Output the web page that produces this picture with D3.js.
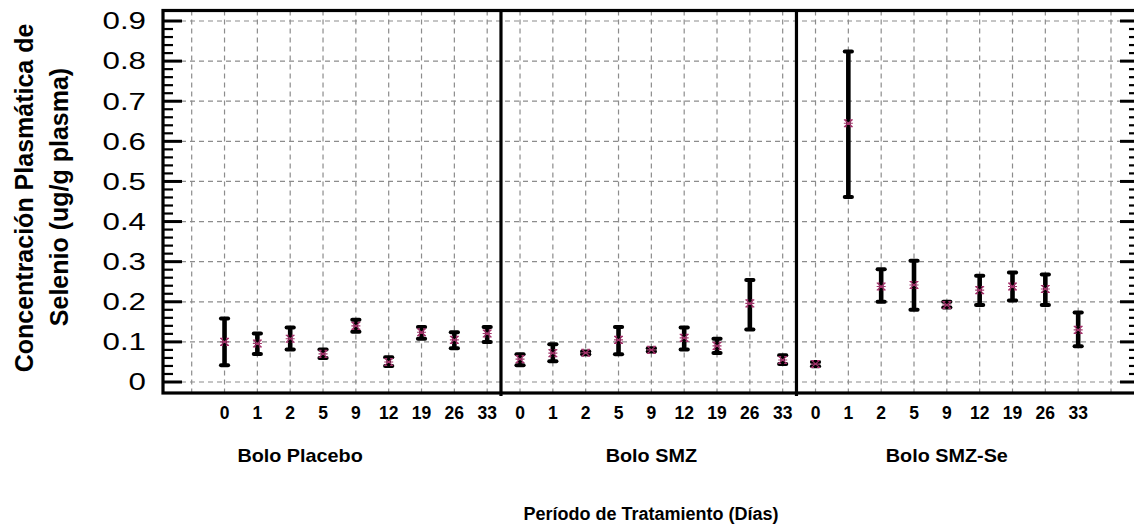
<!DOCTYPE html>
<html>
<head>
<meta charset="utf-8">
<script src="https://cdn.jsdelivr.net/npm/d3@7"></script>
<style>
  html, body { margin: 0; padding: 0; background: #fff; }
  svg { display: block; font-family: "Liberation Sans", Arial, sans-serif; }
</style>
</head>
<body>
<svg id="chart" width="1134" height="527"></svg>
<script>
// Treatment groups and sampling days
const groups = ["Bolo Placebo", "Bolo SMZ", "Bolo SMZ-Se"];
const days = ["0", "1", "2", "5", "9", "12", "19", "26", "33"];

// Mean plasma selenium (ug/g plasma) and interval limits per group
const placeboMean = [0.100, 0.096, 0.108, 0.070, 0.140, 0.050, 0.124, 0.105, 0.121];
const placeboLow  = [0.042, 0.070, 0.081, 0.060, 0.125, 0.040, 0.108, 0.084, 0.100];
const placeboHigh = [0.158, 0.121, 0.136, 0.081, 0.155, 0.062, 0.137, 0.124, 0.137];

const smzMean = [0.057, 0.072, 0.073, 0.105, 0.080, 0.110, 0.090, 0.196, 0.055];
const smzLow  = [0.042, 0.052, 0.069, 0.069, 0.076, 0.081, 0.072, 0.131, 0.045];
const smzHigh = [0.069, 0.094, 0.076, 0.137, 0.084, 0.136, 0.108, 0.254, 0.067];

const smzSeMean = [0.045, 0.645, 0.238, 0.242, 0.192, 0.229, 0.238, 0.232, 0.130];
const smzSeLow  = [0.039, 0.461, 0.200, 0.180, 0.186, 0.192, 0.203, 0.192, 0.089];
const smzSeHigh = [0.050, 0.824, 0.281, 0.302, 0.200, 0.265, 0.273, 0.268, 0.173];

const yTicks = [0, 0.1, 0.2, 0.3, 0.4, 0.5, 0.6, 0.7, 0.8, 0.9];

const series = [
  { mean: placeboMean, low: placeboLow, high: placeboHigh },
  { mean: smzMean, low: smzLow, high: smzHigh },
  { mean: smzSeMean, low: smzSeLow, high: smzSeHigh }
];

// Flatten into one row per (group, day); slots run 2..28 across the three panels
const rows = [];
series.forEach((s, g) => {
  days.forEach((d, i) => {
    rows.push({ group: g, day: d, slot: 2 + g * days.length + i,
                mean: s.mean[i], low: s.low[i], high: s.high[i] });
  });
});

const svg = d3.select("#chart");
const W = 1134, H = 527;
svg.append("rect").attr("width", W).attr("height", H).attr("fill", "#fff");

// Scales
const x = d3.scaleLinear().domain([1, 29]).range([191.7, 1111]);
const y = d3.scaleLinear().domain([0, 0.9]).range([382, 21]);

const frameLeft = 163, frameRight = 1136, frameTop = 10.5, frameBottom = 393;

// Grid
const grid = svg.append("g")
  .attr("stroke", "#8c8c8c").attr("stroke-width", 1.2)
  .attr("stroke-dasharray", "5,4").attr("fill", "none");
grid.selectAll("line.h").data(yTicks).join("line")
  .attr("class", "h")
  .attr("x1", frameLeft).attr("x2", 1120)
  .attr("y1", d => y(d)).attr("y2", d => y(d));
grid.selectAll("line.v").data(d3.range(1, 30)).join("line")
  .attr("class", "v")
  .attr("x1", d => x(d)).attr("x2", d => x(d))
  .attr("y1", frameTop).attr("y2", frameBottom);

// Y ticks (major inward on both sides, minor every 0.02)
const minor = d3.range(0, 0.9001, 0.02).filter(v => Math.abs(v * 10 - Math.round(v * 10)) > 1e-6);
const ticks = svg.append("g").attr("stroke", "#000");
ticks.selectAll("line.maj").data(yTicks).join("line")
  .attr("x1", frameLeft).attr("x2", frameLeft + 19)
  .attr("y1", d => y(d)).attr("y2", d => y(d)).attr("stroke-width", 3);
ticks.selectAll("line.min").data(minor).join("line")
  .attr("x1", frameLeft).attr("x2", frameLeft + 10)
  .attr("y1", d => y(d)).attr("y2", d => y(d)).attr("stroke-width", 2.2);
ticks.selectAll("line.majr").data(yTicks).join("line")
  .attr("x1", 1120).attr("x2", W)
  .attr("y1", d => y(d)).attr("y2", d => y(d)).attr("stroke-width", 3);
ticks.selectAll("line.minr").data(minor).join("line")
  .attr("x1", 1129).attr("x2", W)
  .attr("y1", d => y(d)).attr("y2", d => y(d)).attr("stroke-width", 2.2);

// Y tick labels
svg.append("g").selectAll("text").data(yTicks).join("text")
  .attr("transform", d => `translate(146,${y(d) + 8.3}) scale(1.36,1)`)
  .attr("text-anchor", "end")
  .attr("font-size", 23)
  .attr("fill", "#000")
  .text(d => d3.format("")(+d.toFixed(1)));

// Frame and panel separators
const frame = svg.append("g").attr("stroke", "#000").attr("stroke-width", 3.2).attr("fill", "none");
frame.append("rect")
  .attr("x", frameLeft).attr("y", frameTop)
  .attr("width", frameRight - frameLeft).attr("height", frameBottom - frameTop);
[10.42, 19.42].forEach(u => {
  frame.append("line")
    .attr("x1", x(u)).attr("x2", x(u))
    .attr("y1", frameTop).attr("y2", frameBottom + 3);
});

// Error bars
const bars = svg.append("g").attr("stroke", "#000");
bars.selectAll("line.stem").data(rows).join("line")
  .attr("x1", d => x(d.slot)).attr("x2", d => x(d.slot))
  .attr("y1", d => y(d.low)).attr("y2", d => y(d.high))
  .attr("stroke-width", 4.6);
["low", "high"].forEach(k => {
  bars.selectAll("line.cap-" + k).data(rows).join("line")
    .attr("class", "cap-" + k)
    .attr("x1", d => x(d.slot) - 3.6).attr("x2", d => x(d.slot) + 3.6)
    .attr("y1", d => y(d[k])).attr("y2", d => y(d[k]))
    .attr("stroke-width", 4).attr("stroke-linecap", "round");
});

// Mean markers: small starred cross
const markerPath = "M-4,-3.5L4,3.5M-4,3.5L4,-3.5M-4.5,-3.5L-1.5,-3.5M1.5,-3.5L4.5,-3.5M-4.5,3.5L-1.5,3.5M1.5,3.5L4.5,3.5M-4.5,0L4.5,0";
svg.append("g").selectAll("path").data(rows).join("path")
  .attr("transform", d => `translate(${x(d.slot)},${y(d.mean)})`)
  .attr("d", markerPath)
  .attr("fill", "none")
  .attr("stroke", "#a3336b")
  .attr("stroke-width", 1.1);

// Day labels
svg.append("g").selectAll("text").data(rows).join("text")
  .attr("x", d => x(d.slot)).attr("y", 419)
  .attr("text-anchor", "middle")
  .attr("font-size", 17.5).attr("font-weight", "bold")
  .attr("fill", "#000")
  .text(d => d.day);

// Group labels
const groupCenters = [4.3, 15, 24];
svg.append("g").selectAll("text").data(groups).join("text")
  .attr("transform", (d, i) => `translate(${x(groupCenters[i])},461.5) scale(1.1,1)`)
  .attr("text-anchor", "middle")
  .attr("font-size", 18).attr("font-weight", "bold")
  .attr("fill", "#000")
  .text(d => d);

// Axis titles
svg.append("text")
  .attr("x", 651).attr("y", 520)
  .attr("text-anchor", "middle")
  .attr("font-size", 18).attr("font-weight", "bold")
  .text("Período de Tratamiento (Días)");

const yTitle = svg.append("g").attr("font-size", 25).attr("font-weight", "bold").attr("text-anchor", "middle");
yTitle.append("text")
  .attr("transform", "translate(33,198) rotate(-90)")
  .text("Concentración Plasmática de");
yTitle.append("text")
  .attr("transform", "translate(68,197) rotate(-90)")
  .text("Selenio (ug/g plasma)");
</script>
</body>
</html>
